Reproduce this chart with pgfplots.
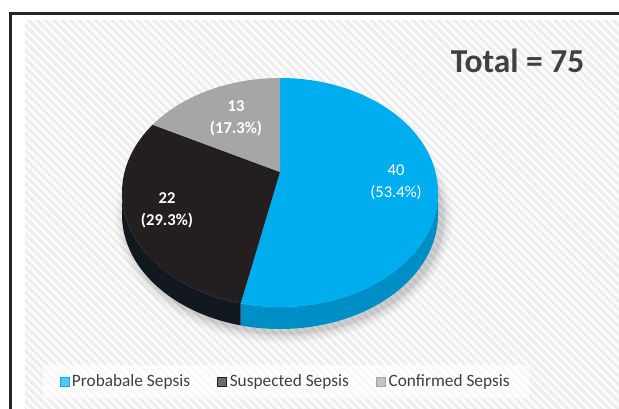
\documentclass[border=0pt]{standalone}
\usepackage{pgfplots}
\pgfplotsset{compat=1.18}
\usepackage{pgfplotstable}
\usepackage{fontspec}
\setmainfont{Carlito}
\usetikzlibrary{patterns.meta}

\definecolor{cblue}{RGB}{0,174,239}
\definecolor{cblueside}{RGB}{0,142,198}
\definecolor{cblack}{RGB}{35,31,32}
\definecolor{cblackside}{RGB}{18,24,32}
\definecolor{cgray}{RGB}{166,166,166}
\definecolor{ctext}{RGB}{64,64,64}
\definecolor{hatch}{RGB}{236,236,236}

\pgfplotstableread{
label value
Probabale 40
Suspected 22
Confirmed 13
}\piedata

% perspective: circle angle -> angle on the drawn rim ellipse
\newcommand\rimangle[2]{%
  \pgfmathsetmacro\tmpf{5.59/(5.59+sin(#1))}%
  \pgfmathsetmacro\tmpx{156*cos(#1)*\tmpf/158}%
  \pgfmathsetmacro\tmpy{(237+110.8*sin(#1)*\tmpf-216.5)/114.5}%
  \pgfmathsetmacro#2{atan2(\tmpy,\tmpx)}}

\begin{document}%
\begin{tikzpicture}
\pgfplotstablegetelem{0}{value}\of\piedata \let\va\pgfplotsretval
\pgfplotstablegetelem{1}{value}\of\piedata \let\vb\pgfplotsretval
\pgfplotstablegetelem{2}{value}\of\piedata \let\vc\pgfplotsretval
\pgfmathsetmacro\vtot{\va+\vb+\vc}
\pgfmathsetmacro\ta{90-360*\va/\vtot}
\pgfmathsetmacro\tb{\ta-360*\vb/\vtot}
\rimangle{\ta}{\pa}
\rimangle{\tb}{\pbraw}
\pgfmathsetmacro\pb{\pbraw-360}
\pgfmathsetmacro\pax{280+158*cos(\pa)}
\pgfmathsetmacro\pay{216.5+114.5*sin(\pa)}
\pgfmathsetmacro\pbx{280+158*cos(\pb)}
\pgfmathsetmacro\pby{216.5+114.5*sin(\pb)}
\begin{axis}[
  scale only axis, width=15.475cm, height=10.225cm,
  xmin=0, xmax=619, ymin=0, ymax=409,
  hide axis, enlargelimits=false,
  legend columns=3,
  legend cell align=left,
  legend style={at={(axis cs:286,27)}, anchor=center, draw=none,
    fill=white, fill opacity=0.65, text opacity=1,
    font=\fontsize{12.3}{14}\selectfont, text=ctext,
    /tikz/every even column/.append style={column sep=17.5pt},
    nodes={inner xsep=2pt, inner ysep=2pt},
    inner xsep=12pt, inner ysep=5pt},
]
\coordinate (bbsw) at (axis cs:0,0);
\coordinate (bbne) at (axis cs:619,409);
% background
\fill[white] (axis cs:0,0) rectangle (axis cs:619,409);
\fill[gray!3] (axis cs:25,0) rectangle (axis cs:619,388);
\fill[pattern={Lines[angle=-45,distance=4.2pt,line width=1.8pt]}, pattern color=hatch]
  (axis cs:25,0) rectangle (axis cs:619,388);
\draw[line width=0.065cm, black!85] (axis cs:10.5,-5) -- (axis cs:10.5,395.5) -- (axis cs:630,395.5);

% soft shadow
\fill[black, opacity=0.03] (axis cs:284,191) ellipse [x radius=4.2cm, y radius=3.11cm];
\fill[black, opacity=0.04] (axis cs:284,191) ellipse [x radius=4.125cm, y radius=3.04cm];
\fill[black, opacity=0.05] (axis cs:284,191) ellipse [x radius=4.05cm, y radius=2.96cm];
\fill[black, opacity=0.06] (axis cs:284,191) ellipse [x radius=4.0cm, y radius=2.91cm];

% sides
\fill[cblueside] (axis cs:\pax,\pay) arc[start angle=\pa, end angle=0, x radius=3.95cm, y radius=2.8625cm]
  -- ++(0,-0.55cm) arc[start angle=0, end angle=\pa, x radius=3.95cm, y radius=2.8625cm] -- cycle;
\fill[cblackside] (axis cs:122,216.5) arc[start angle=-180, end angle=\pa, x radius=3.95cm, y radius=2.8625cm]
  -- ++(0,-0.55cm) arc[start angle=\pa, end angle=-180, x radius=3.95cm, y radius=2.8625cm] -- cycle;

% top faces
\fill[cblue] (axis cs:280,237) -- (axis cs:280,331) arc[start angle=90, end angle=\pa, x radius=3.95cm, y radius=2.8625cm] -- cycle;
\fill[cblack] (axis cs:280,237) -- (axis cs:\pax,\pay) arc[start angle=\pa, end angle=\pb, x radius=3.95cm, y radius=2.8625cm] -- cycle;
\fill[cgray] (axis cs:280,237) -- (axis cs:\pbx,\pby) arc[start angle=\pb, end angle=-270, x radius=3.95cm, y radius=2.8625cm] -- cycle;

% labels
\node[text=white, align=center, font=\fontsize{11.8}{15.8}\selectfont] at (axis cs:396,227) {40\\(53.4\%)};
\node[text=white, align=center, font=\bfseries\fontsize{11.8}{15.5}\selectfont] at (axis cs:167,198.5) {22\\(29.3\%)};
\node[text=white, align=center, font=\bfseries\fontsize{11.8}{15.5}\selectfont] at (axis cs:236,290.5) {13\\(17.3\%)};
\node[text=ctext, font=\bfseries\fontsize{23.8}{28}\selectfont] at (axis cs:517.5,348) {Total = 75};

\addlegendimage{legend image code/.code={\fill[cblue] (0pt,-3.2pt) rectangle (6.4pt,3.2pt);}}
\addlegendentry{Probabale Sepsis}
\addlegendimage{legend image code/.code={\fill[cblack] (0pt,-3.2pt) rectangle (6.4pt,3.2pt);}}
\addlegendentry{Suspected Sepsis}
\addlegendimage{legend image code/.code={\fill[cgray] (0pt,-3.2pt) rectangle (6.4pt,3.2pt);}}
\addlegendentry{Confirmed Sepsis}
\end{axis}
\pgfresetboundingbox
\useasboundingbox (bbsw) rectangle (bbne);
\end{tikzpicture}%
\end{document}
